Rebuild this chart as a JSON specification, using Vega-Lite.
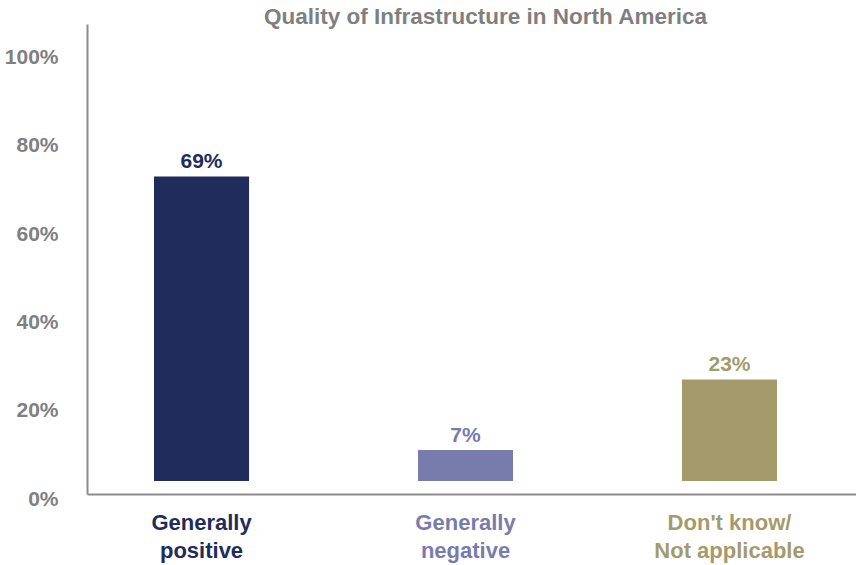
{
  "$schema": "https://vega.github.io/schema/vega-lite/v6.json",
  "width": 769,
  "height": 470,
  "autosize": {"type": "none"},
  "padding": {"left": 87, "top": 24, "right": 0, "bottom": 71},
  "background": "white",
  "config": {"view": {"stroke": null}, "font": "Liberation Sans"},
  "title": {
    "text": "Quality of Infrastructure in North America",
    "fontSize": 22.5,
    "fontWeight": "bold",
    "color": "#7f7f7f",
    "anchor": "middle",
    "dx": 14,
    "dy": 25,
    "baseline": "alphabetic",
    "offset": 3
  },
  "data": {
    "values": [
      {"category": "Generally positive", "value": 69, "label": "69%"},
      {"category": "Generally negative", "value": 7, "label": "7%"},
      {"category": "Don't know/ Not applicable", "value": 23, "label": "23%"}
    ]
  },
  "encoding": {
    "x": {
      "field": "category",
      "type": "nominal",
      "sort": null,
      "scale": {"paddingInner": 0.64, "paddingOuter": 0.2765, "align": 0.459},
      "axis": {
        "title": null,
        "labelAngle": 0,
        "ticks": false,
        "domainColor": "#8c8c8c",
        "domainWidth": 2,
        "labelFontSize": 22,
        "labelFontWeight": "bold",
        "labelPadding": 18,
        "labelLineHeight": 28.5,
        "labelBaseline": "top",
        "labelExpr": "datum.value == 'Generally positive' ? ['Generally', 'positive'] : datum.value == 'Generally negative' ? ['Generally', 'negative'] : ['Don\\'t know/', 'Not applicable']",
        "labelColor": {
          "condition": [
            {"test": "datum.value == 'Generally positive'", "value": "#202c5c"},
            {"test": "datum.value == 'Generally negative'", "value": "#777cad"}
          ],
          "value": "#a49a6c"
        }
      }
    },
    "color": {
      "field": "category",
      "type": "nominal",
      "sort": null,
      "scale": {
        "domain": ["Generally positive", "Generally negative", "Don't know/ Not applicable"],
        "range": ["#202c5c", "#777cad", "#a49a6c"]
      },
      "legend": null
    }
  },
  "layer": [
    {
      "mark": {"type": "bar", "yOffset": -13},
      "encoding": {
        "y": {
          "field": "value",
          "type": "quantitative",
          "scale": {"domain": [0, 106.5], "nice": false},
          "axis": {
            "title": null,
            "values": [0, 20, 40, 60, 80, 100],
            "labelExpr": "datum.value + '%'",
            "ticks": false,
            "grid": false,
            "domainColor": "#8c8c8c",
            "domainWidth": 2,
            "labelFontSize": 21,
            "labelFontWeight": "bold",
            "labelColor": "#808080",
            "labelPadding": 29,
            "labelOffset": 5
          }
        }
      }
    },
    {
      "mark": {"type": "text", "yOffset": -17, "baseline": "bottom", "fontSize": 21, "fontWeight": "bold"},
      "encoding": {
        "y": {"field": "value", "type": "quantitative"},
        "text": {"field": "label"}
      }
    }
  ]
}
